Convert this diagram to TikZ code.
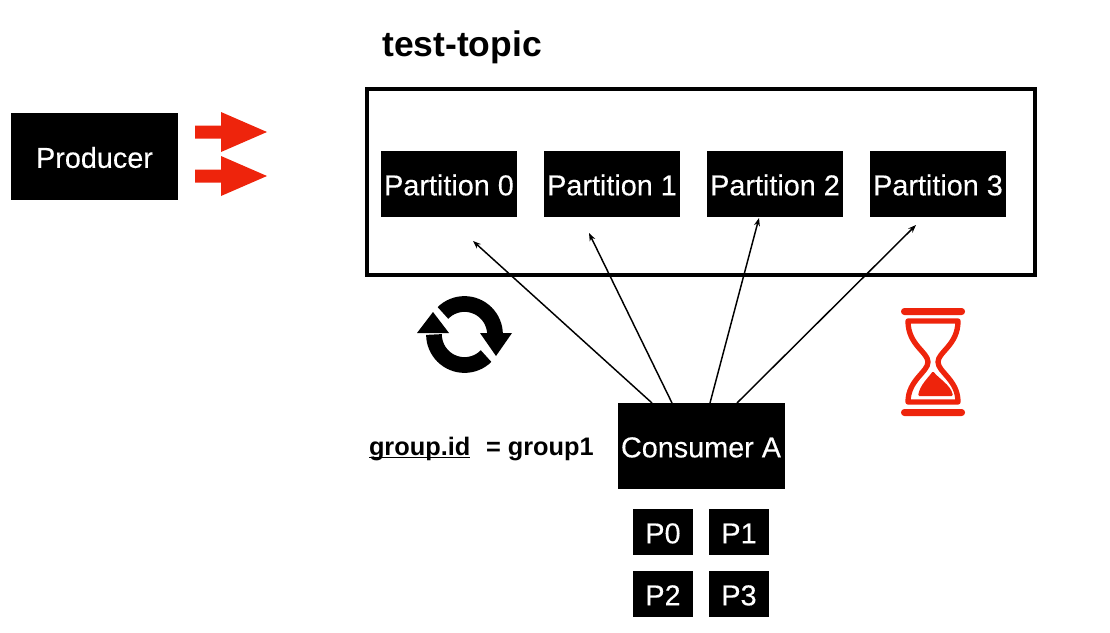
\documentclass[tikz,border=0pt]{standalone}
\usepackage{fontspec}
\setmainfont{Liberation Sans}
\newfontfamily\mediumfont[FakeBold=0.25]{Liberation Sans}
\usetikzlibrary{positioning, arrows.meta}
\definecolor{alarm}{RGB}{238,36,12}

\begin{document}
\begin{tikzpicture}[
    x=0.75pt, y=-0.75pt,
    blackbox/.style={rectangle, fill=black, text=white, inner sep=0pt, outer sep=0pt, align=center, text height=17pt, text depth=0pt, font=\mediumfont\fontsize{21.6}{26}\selectfont},
    partition/.style={blackbox, minimum width=102pt, minimum height=49.5pt},
    slot/.style={blackbox, minimum width=45pt, minimum height=34.5pt},
    arrow/.style={-{Stealth[length=6pt,width=4.5pt]}, line width=1.1pt},
    label/.style={inner sep=0pt, outer sep=0pt, anchor=base west, font=\bfseries\fontsize{19}{23}\selectfont}
]
\useasboundingbox (0,0) rectangle (1110,632);

% ========== PRODUCER ==========
\node[blackbox, minimum width=125.25pt, minimum height=65.25pt] (producer) at (94.5,156.5) {Producer};
\foreach \ypos in {132,176} {
  \fill[alarm] (195,\ypos-6.5) -- (221,\ypos-6.5) -- (221,\ypos-20) -- (267,\ypos) -- (221,\ypos+20) -- (221,\ypos+6.5) -- (195,\ypos+6.5) -- cycle;
}

% ========== TOPIC ==========
\node[inner sep=0pt, anchor=base west, font=\bfseries\fontsize{26.6}{32}\selectfont] (title) at (382,56) {test-topic};
\node[rectangle, draw=black, line width=3pt, outer sep=0pt, minimum width=501pt, minimum height=139.5pt] (topic) at (701,182) {};

\node[partition] (part0) at (449,184) {Partition 0};
\node[partition, right=20.25pt of part0] (part1) {Partition 1};
\node[partition, right=20.25pt of part1] (part2) {Partition 2};
\node[partition, right=20.25pt of part2] (part3) {Partition 3};

% ========== CONSUMER ==========
\node[blackbox, minimum width=125.25pt, minimum height=64.5pt] (consumer) at (701,446) {Consumer A};
\node[slot] (p0) at (663,532) {P0};
\node[slot, right=12pt of p0] (p1) {P1};
\node[slot, below=12pt of p0] (p2) {P2};
\node[slot, right=12pt of p2] (p3) {P3};

\node[label] (groupid) at (369,455) {\rlap{\rule[-2.6pt]{75.75pt}{1.1pt}}group.id};
\node[label] (groupname) at (486,455) {= group1};

% ========== FLECHAS ==========
\coordinate (tip0) at (473,241);
\coordinate (tip1) at (589,233);
\coordinate (tip2) at (759,218);
\coordinate (tip3) at (916,225);
\draw[arrow] ([xshift=-36.75pt]consumer.north) -- (tip0);
\draw[arrow] ([xshift=-21.75pt]consumer.north) -- (tip1);
\draw[arrow] ([xshift=6.75pt]consumer.north) -- (tip2);
\draw[arrow] ([xshift=27pt]consumer.north) -- (tip3);

% ========== ICONS ==========
\begin{scope}[shift={(464.5,334.5)}, x=0.75pt, y=0.75pt]
  \draw[line width=11.8pt] (135:30.5) arc[start angle=135, end angle=0, radius=30.5];
  \draw[line width=11.8pt] (-45:30.5) arc[start angle=-45, end angle=-180, radius=30.5];
  \fill (15.5,1.5) -- (47.5,1.5) -- (31.5,-21.5) -- cycle;
  \fill (-47.5,1.5) -- (-15.5,1.5) -- (-31.5,22.5) -- cycle;
\end{scope}

\fill[alarm, rounded corners=2.5pt] (901,308) rectangle (965,315);
\fill[alarm, rounded corners=2.5pt] (901,409) rectangle (965,416);
\draw[alarm, line width=4pt, line join=round] (908,321) -- (958,321)
  .. controls (958,345) and (938,352) .. (938,362)
  .. controls (938,372) and (958,380) .. (958,402)
  -- (908,402)
  .. controls (908,380) and (928,372) .. (928,362)
  .. controls (928,352) and (908,345) .. (908,321) -- cycle;
\fill[alarm, rounded corners=1pt] (918,396) .. controls (920,385) and (928,378) .. (933,371)
  .. controls (938,378) and (951,385) .. (953,396) -- cycle;
\end{tikzpicture}
\end{document}
